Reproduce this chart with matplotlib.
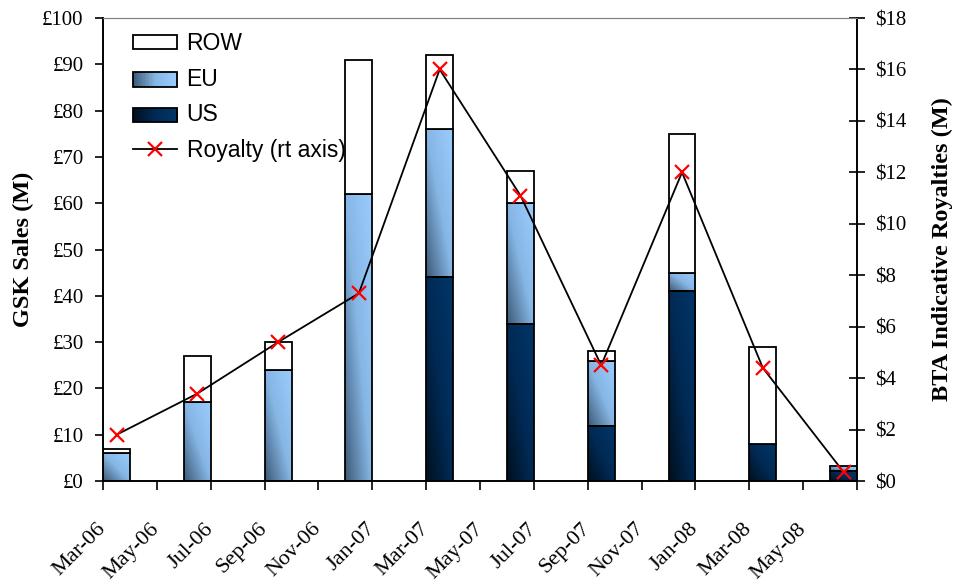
import numpy as np
import matplotlib
matplotlib.use('Agg')
import matplotlib.pyplot as plt
from matplotlib.patches import Rectangle
from matplotlib.lines import Line2D
from matplotlib.colors import LinearSegmentedColormap

# quarterly data (month index 0 = Mar-06)
quarters = ['Mar-06', 'Jun-06', 'Sep-06', 'Dec-06', 'Mar-07',
            'Jun-07', 'Sep-07', 'Dec-07', 'Mar-08', 'Jun-08']
month_idx = [0, 3, 6, 9, 12, 15, 18, 21, 24, 27]
us = [0, 0, 0, 0, 44, 34, 12, 41, 8, 2.2]
eu = [6, 17, 24, 62, 32, 26, 14, 4, 0, 1.0]
row = [1, 10, 6, 29, 16, 7, 2, 30, 21, 0]
royalty = [1.8, 3.4, 5.4, 7.3, 16.0, 11.1, 4.5, 12.0, 4.4, 0.35]

tick_labels = ['Mar-06', 'May-06', 'Jul-06', 'Sep-06', 'Nov-06', 'Jan-07', 'Mar-07',
               'May-07', 'Jul-07', 'Sep-07', 'Nov-07', 'Jan-08', 'Mar-08', 'May-08', '']

serif = 'Liberation Serif'
sans = 'Liberation Sans'

eu_cmap = LinearSegmentedColormap.from_list('eu', ['#3d5a78', '#86b6e4', '#99ccff'])
us_cmap = LinearSegmentedColormap.from_list('us', ['#00101f', '#002a55', '#003668'])

fig = plt.figure(figsize=(9.63, 5.81), dpi=100)
ax = fig.add_axes([0.107, 0.172, 0.783, 0.797])
ax2 = ax.twinx()

uu, vv = np.meshgrid(np.linspace(0, 1, 32), np.linspace(0, 1, 64))
grad = (uu + vv) / 2


def bar_piece(x, bottom, height, cmap=None):
    if height <= 0:
        return
    if cmap is not None:
        ax.imshow(grad, cmap=cmap, extent=(x - 0.5, x + 0.5, bottom, bottom + height),
                  origin='lower', aspect='auto', interpolation='bilinear', zorder=2)
        fc = 'none'
    else:
        fc = 'white'
    ax.add_patch(Rectangle((x - 0.5, bottom), 1, height, facecolor=fc,
                           edgecolor='black', lw=1.3, zorder=3))


for i, m in enumerate(month_idx):
    x = m + 0.5
    bar_piece(x, 0, us[i], us_cmap)
    bar_piece(x, us[i], eu[i], eu_cmap)
    bar_piece(x, us[i] + eu[i], row[i])

xs = [m + 0.5 for m in month_idx]
ax2.plot(xs, royalty, color='black', lw=1.3, marker='x', ms=10, mew=1.6,
         mec='red', zorder=5)

ax.set_xlim(0, 28)
ax.set_ylim(0, 100)
ax2.set_ylim(0, 18)

ax.set_xticks(range(0, 29, 2))
ax.set_xticklabels(tick_labels, rotation=45, ha='right', va='center',
                   rotation_mode='anchor', fontsize=16, family=serif)
ax.tick_params(axis='x', direction='out', length=6.5, width=1.2, pad=26)

ax.set_yticks(range(0, 101, 10))
ax.set_yticklabels(['£%d' % v for v in range(0, 101, 10)], fontsize=15, family=serif)
ax.tick_params(axis='y', direction='out', length=6, width=1.2, pad=8)

ax2.set_yticks(range(0, 19, 2))
ax2.set_yticklabels(['$%d' % v for v in range(0, 19, 2)], fontsize=15, family=serif)
ax2.tick_params(axis='y', direction='inout', length=12, width=1.2, pad=7)

ax.set_ylabel('GSK Sales (M)', fontsize=17.5, family=serif, fontweight='bold', labelpad=6)
ax2.set_ylabel('BTA Indicative Royalties (M)', fontsize=17.5, family=serif,
               fontweight='bold', labelpad=18)

for a in (ax, ax2):
    a.spines['top'].set_color('#808080')
    a.spines['left'].set_linewidth(1.2)
    a.spines['right'].set_linewidth(1.2)
    a.spines['bottom'].set_linewidth(1.2)


class GradHandler:
    def __init__(self, cmap):
        self.cmap = cmap

    def legend_artist(self, legend, orig_handle, fontsize, handlebox):
        x0, y0 = handlebox.xdescent, handlebox.ydescent
        w, h = handlebox.width, handlebox.height
        n = 30
        for k in range(n):
            handlebox.add_artist(Rectangle((x0 + w * k / n, y0), w / n + 0.3, h,
                                           facecolor=self.cmap(k / (n - 1)), lw=0,
                                           transform=handlebox.get_transform()))
        box = Rectangle((x0, y0), w, h, facecolor='none', edgecolor='black', lw=1.3,
                        transform=handlebox.get_transform())
        handlebox.add_artist(box)
        return box


h_row = Rectangle((0, 0), 1, 1, facecolor='white', edgecolor='black', lw=1.3)
h_eu = Rectangle((0, 0), 1, 1)
h_us = Rectangle((0, 0), 1, 1)
h_roy = Line2D([], [], color='black', lw=1.3, marker='x', ms=10, mew=1.6, mec='red')

leg = ax2.legend([h_row, h_eu, h_us, h_roy], ['ROW', 'EU', 'US', 'Royalty (rt axis)'],
                 loc='upper left', bbox_to_anchor=(0.012, 1.014), frameon=False,
                 prop={'family': sans, 'size': 16.5}, handlelength=1.95, handleheight=0.6,
                 labelspacing=0.55, handletextpad=0.4,
                 handler_map={h_eu: GradHandler(eu_cmap), h_us: GradHandler(us_cmap)})

fig.savefig('out.png', dpi=100)
